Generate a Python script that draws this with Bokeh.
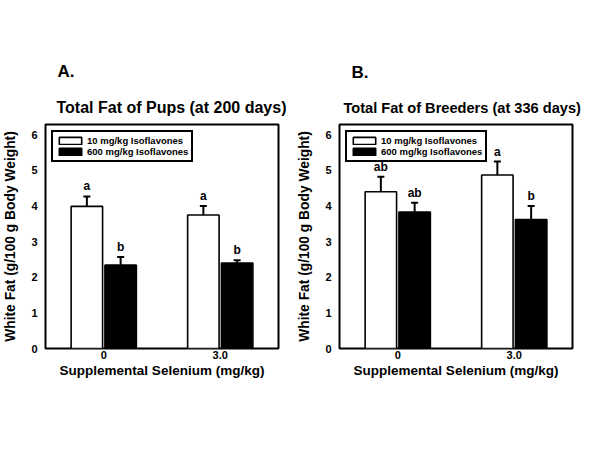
from bokeh.plotting import figure
from bokeh.models import (Range1d, FixedTicker, Title, Whisker, TeeHead,
                          ColumnDataSource, Legend, LegendItem)
from bokeh.layouts import row
from bokeh.core.properties import value
from bokeh.embed import file_html
from bokeh.resources import INLINE

FONT = "Liberation Sans"

# ---------------- data ----------------
groups = ["0", "3.0"]
series_names = ["10 mg/kg Isoflavones", "600 mg/kg Isoflavones"]
y_ticks = [0, 1, 2, 3, 4, 5, 6]

pups_low = [3.99, 3.75]
pups_low_err = [0.28, 0.25]
pups_high = [2.34, 2.40]
pups_high_err = [0.23, 0.08]
pups_low_letters = ["a", "a"]
pups_high_letters = ["b", "b"]

breeders_low = [4.40, 4.87]
breeders_low_err = [0.42, 0.38]
breeders_high = [3.83, 3.62]
breeders_high_err = [0.26, 0.38]
breeders_low_letters = ["ab", "a"]
breeders_high_letters = ["ab", "b"]


def make_panel(letter, title, title_offset, title_size,
               low, low_err, high, high_err, low_let, high_let):
    p = figure(width=294, height=388, output_backend="svg", toolbar_location=None,
               x_range=Range1d(0.5, 2.5), y_range=Range1d(0, 6.29),
               min_border_left=39, min_border_right=16, min_border_top=124,
               min_border_bottom=40, title=None)
    p.background_fill_color = "white"
    p.border_fill_color = "white"
    p.outline_line_color = "black"
    p.outline_line_width = 2
    p.xgrid.visible = False
    p.ygrid.visible = False

    idx = [i + 1 for i in range(len(groups))]
    off = 0.145
    bw = 0.27
    renderers = []
    for vals, errs, lets, color, sign in [(low, low_err, low_let, "white", -1),
                                          (high, high_err, high_let, "black", 1)]:
        src = ColumnDataSource(dict(
            x=[i + sign * off for i in idx],
            top=vals,
            etop=[v + e for v, e in zip(vals, errs)],
            lab=lets,
        ))
        r = p.vbar(x="x", top="top", bottom=0, width=bw, source=src,
                   fill_color=color, line_color="black", line_width=1.6)
        renderers.append(r)
        w = Whisker(base="x", lower="top", upper="etop", source=src,
                    dimension="height", line_width=2, line_color="black",
                    lower_head=None,
                    upper_head=TeeHead(size=7, line_width=2, line_color="black"))
        p.add_layout(w)
        p.text(x="x", y="etop", text="lab", source=src, text_align="center",
               text_baseline="bottom", y_offset=-3,
               text_font=value(FONT), text_font_style="bold",
               text_font_size="12px", text_color="black")

    legend = Legend(items=[LegendItem(label=series_names[0], renderers=[renderers[0]]),
                           LegendItem(label=series_names[1], renderers=[renderers[1]])],
                    location="top_left", margin=6, padding=3, spacing=0,
                    glyph_width=28, glyph_height=9, label_height=9, label_standoff=3,
                    border_line_color="black", border_line_width=2, border_line_alpha=1,
                    label_text_font=FONT, label_text_font_style="bold",
                    label_text_color="black",
                    label_text_font_size="9.5px", background_fill_alpha=1)
    p.add_layout(legend)

    # axes
    p.xaxis.ticker = FixedTicker(ticks=idx)
    p.xaxis.major_label_overrides = {i: g for i, g in zip(idx, groups)}
    p.yaxis.ticker = FixedTicker(ticks=y_ticks)
    for ax in (p.xaxis[0], p.yaxis[0]):
        ax.axis_line_color = None
        ax.major_tick_line_color = None
        ax.minor_tick_line_color = None
        ax.major_tick_out = 0
        ax.major_tick_in = 0
        ax.major_label_text_font = FONT
        ax.major_label_text_font_style = "bold"
        ax.major_label_text_font_size = "11px"
        ax.major_label_text_color = "black"
        ax.axis_label_text_font = FONT
        ax.axis_label_text_font_style = "bold"
        ax.axis_label_text_color = "black"
    p.xaxis.axis_label = "Supplemental Selenium (mg/kg)"
    p.xaxis.axis_label_text_font_size = "13.5px"
    p.xaxis.major_label_standoff = 2
    p.xaxis.axis_label_standoff = 1
    p.yaxis.axis_label = "White Fat (g/100 g Body Weight)"
    p.yaxis.axis_label_text_font_size = "13.8px"
    p.yaxis.major_label_standoff = 8
    p.yaxis.axis_label_standoff = 10

    p.add_layout(Title(text=title, text_font=FONT, text_font_style="bold",
                       text_font_size=title_size, align="left", offset=title_offset,
                       standoff=18, text_color="black"), "above")
    p.add_layout(Title(text=letter, text_font=FONT, text_font_style="bold",
                       text_font_size="17px", align="left", offset=12,
                       standoff=14, text_color="black"), "above")
    return p


p1 = make_panel("A.", "Total Fat of Pups (at 200 days)", 11, "16px",
                pups_low, pups_low_err, pups_high, pups_high_err,
                pups_low_letters, pups_high_letters)
p2 = make_panel("B.", "Total Fat of Breeders (at 336 days)", 4, "14.6px",
                breeders_low, breeders_low_err, breeders_high, breeders_high_err,
                breeders_low_letters, breeders_high_letters)

layout = row(p1, p2)
open("out.html", "w").write(file_html(layout, INLINE))
